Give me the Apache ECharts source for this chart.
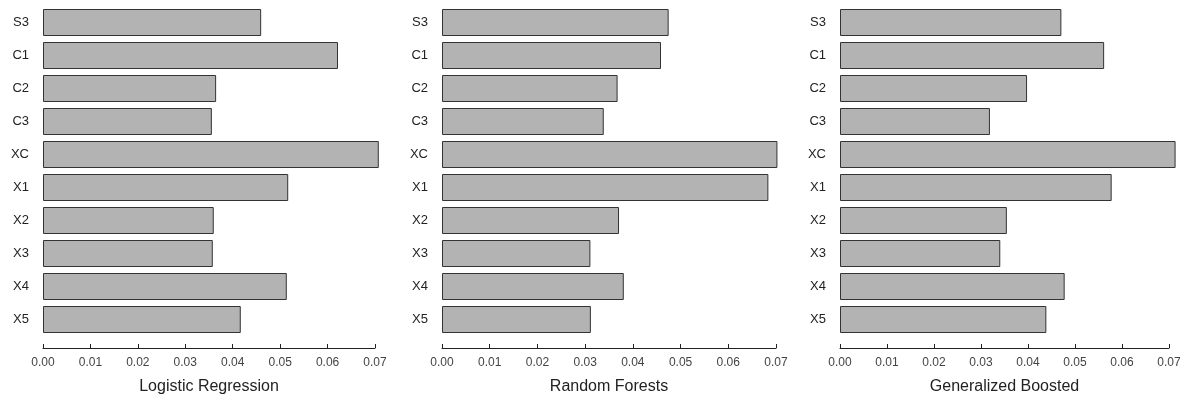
<!DOCTYPE html>
<html>
<head>
<meta charset="utf-8">
<script src="https://cdn.jsdelivr.net/npm/echarts@6/dist/echarts.min.js"></script>
<style>
html,body{margin:0;padding:0;background:#fff;}
#chart{width:1191px;height:398px;}
</style>
</head>
<body>
<div id="chart"></div>
<script>
const categories = ['S3','C1','C2','C3','XC','X1','X2','X3','X4','X5'];
const panelTitles = ['Logistic Regression','Random Forests','Generalized Boosted'];
const logisticRegression = [0.0460,0.0622,0.0365,0.0356,0.0708,0.0517,0.0360,0.0358,0.0514,0.0417];
const randomForests = [0.0475,0.0459,0.0368,0.0339,0.0703,0.0684,0.0371,0.0311,0.0381,0.0312];
const generalizedBoosted = [0.0471,0.0562,0.0398,0.0319,0.0714,0.0578,0.0355,0.0341,0.0478,0.0439];
const tickLabels = ['0.00','0.01','0.02','0.03','0.04','0.05','0.06','0.07'];
const seriesData = [logisticRegression, randomForests, generalizedBoosted];

const FONT = '"Liberation Sans", Arial, sans-serif';
const grids = [
  {left: 43, right: 816, top: 6, bottom: 62, outerBoundsMode: 'none', containLabel: false},
  {left: 442, right: 415, top: 6, bottom: 62, outerBoundsMode: 'none', containLabel: false},
  {left: 840, right: 22, top: 6, bottom: 62, outerBoundsMode: 'none', containLabel: false}
];

const option = {
  backgroundColor: '#ffffff',
  animation: false,
  grid: grids,
  xAxis: grids.map((g, i) => ({
    type: 'value',
    gridIndex: i,
    min: 0,
    max: 0.07,
    interval: 0.01,
    offset: 12,
    name: panelTitles[i],
    nameLocation: 'middle',
    nameGap: 31,
    nameTextStyle: {fontFamily: FONT, fontSize: 16, color: '#222'},
    axisLine: {show: true, lineStyle: {color: '#222', width: 1}},
    axisTick: {show: true, inside: true, length: 4, lineStyle: {color: '#222'}},
    splitLine: {show: false},
    axisLabel: {
      fontFamily: FONT, fontSize: 12, color: '#444', margin: 9,
      formatter: v => tickLabels[Math.round(v * 100)]
    }
  })),
  yAxis: grids.map((g, i) => ({
    type: 'category',
    gridIndex: i,
    data: categories,
    inverse: true,
    axisLine: {show: false},
    axisTick: {show: false},
    axisLabel: {fontFamily: FONT, fontSize: 13, color: '#222', margin: 14}
  })),
  series: seriesData.map((d, i) => ({
    type: 'bar',
    xAxisIndex: i,
    yAxisIndex: i,
    data: d,
    barWidth: 27,
    clip: false,
    itemStyle: {color: '#b3b3b3', borderColor: '#333', borderWidth: 1}
  }))
};

echarts.init(document.getElementById('chart'), null, {renderer: 'canvas'}).setOption(option);
</script>
</body>
</html>
